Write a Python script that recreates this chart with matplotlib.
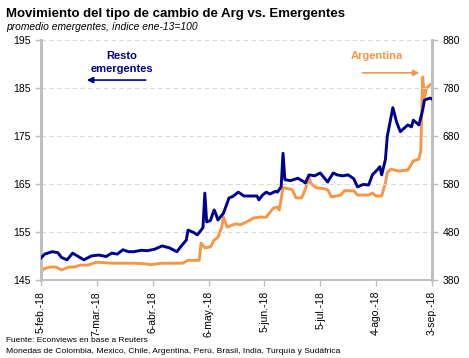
import pandas as pd
import matplotlib.pyplot as plt

# Resto emergentes (eje izquierdo)
resto_fechas = ['2018-02-05', '2018-02-07', '2018-02-11', '2018-02-14', '2018-02-16', '2018-02-19',
                '2018-02-22', '2018-02-25', '2018-02-28', '2018-03-04', '2018-03-08', '2018-03-12',
                '2018-03-15', '2018-03-18', '2018-03-21', '2018-03-24', '2018-03-27', '2018-03-31',
                '2018-04-03', '2018-04-07', '2018-04-11', '2018-04-15', '2018-04-19', '2018-04-21',
                '2018-04-24', '2018-04-25', '2018-04-28', '2018-04-30', '2018-05-03', '2018-05-04',
                '2018-05-05', '2018-05-07', '2018-05-09', '2018-05-10', '2018-05-11', '2018-05-14',
                '2018-05-17', '2018-05-19', '2018-05-22', '2018-05-25', '2018-05-29', '2018-06-01',
                '2018-06-02', '2018-06-04', '2018-06-06', '2018-06-08', '2018-06-11', '2018-06-12',
                '2018-06-14', '2018-06-15', '2018-06-16', '2018-06-19', '2018-06-23', '2018-06-26',
                '2018-06-27', '2018-06-29', '2018-07-02', '2018-07-05', '2018-07-09', '2018-07-10',
                '2018-07-12', '2018-07-14', '2018-07-17', '2018-07-20', '2018-07-23', '2018-07-25',
                '2018-07-28', '2018-07-31', '2018-08-02', '2018-08-05', '2018-08-06', '2018-08-07',
                '2018-08-09', '2018-08-10', '2018-08-13', '2018-08-15', '2018-08-17', '2018-08-21',
                '2018-08-23', '2018-08-24', '2018-08-27', '2018-08-29', '2018-08-30', '2018-09-02',
                '2018-09-03']
resto_valores = [149.7, 150.5, 151.0, 150.8, 149.8, 149.3,
                 150.7, 150.0, 149.3, 150.1, 150.3, 150.0,
                 150.7, 150.5, 151.4, 151.0, 151.0, 151.3,
                 151.2, 151.5, 152.2, 151.8, 151.0, 152.0,
                 153.4, 155.5, 155.0, 154.5, 156.0, 163.2,
                 157.2, 157.5, 159.7, 158.8, 157.6, 159.0,
                 162.2, 162.5, 163.4, 162.6, 162.6, 162.6,
                 161.8, 162.8, 163.4, 163.0, 163.6, 163.4,
                 164.5, 171.5, 166.0, 165.8, 166.3, 165.6,
                 165.3, 167.0, 166.8, 167.4, 165.5, 166.2,
                 167.4, 167.0, 166.8, 167.0, 166.2, 164.5,
                 165.0, 164.9, 167.0, 168.2, 168.7, 167.0,
                 170.2, 175.0, 181.0, 178.0, 176.0, 177.4,
                 177.0, 178.4, 177.4, 180.5, 182.6, 183.0,
                 182.8]

# Argentina (eje derecho)
arg_fechas = ['2018-02-05', '2018-02-07', '2018-02-10', '2018-02-13', '2018-02-16', '2018-02-20',
              '2018-02-23', '2018-02-26', '2018-03-02', '2018-03-07', '2018-03-11', '2018-03-15',
              '2018-03-21', '2018-03-27', '2018-04-01', '2018-04-05', '2018-04-11', '2018-04-18',
              '2018-04-22', '2018-04-25', '2018-04-28', '2018-05-01', '2018-05-02', '2018-05-04',
              '2018-05-07', '2018-05-09', '2018-05-11', '2018-05-13', '2018-05-14', '2018-05-16',
              '2018-05-19', '2018-05-21', '2018-05-23', '2018-05-27', '2018-05-30', '2018-06-02',
              '2018-06-06', '2018-06-08', '2018-06-10', '2018-06-12', '2018-06-13', '2018-06-15',
              '2018-06-17', '2018-06-20', '2018-06-22', '2018-06-25', '2018-06-27', '2018-06-29',
              '2018-06-30', '2018-07-03', '2018-07-06', '2018-07-09', '2018-07-11', '2018-07-16',
              '2018-07-18', '2018-07-23', '2018-07-25', '2018-07-31', '2018-08-02', '2018-08-04',
              '2018-08-07', '2018-08-09', '2018-08-10', '2018-08-12', '2018-08-16', '2018-08-21',
              '2018-08-24', '2018-08-27', '2018-08-28', '2018-08-29', '2018-08-30', '2018-08-31',
              '2018-09-03']
arg_valores = [398, 405, 408, 408, 402, 408,
               408, 412, 412, 418, 417, 416,
               416, 416, 415, 413, 416, 416,
               416, 422, 422, 422, 458, 448,
               450, 464, 470, 490, 512, 491,
               496, 498, 496, 503, 510, 512,
               512, 522, 531, 533, 527, 573,
               572, 569, 552, 552, 570, 594,
               582, 573, 572, 569, 554, 558,
               567, 567, 558, 558, 562, 556,
               556, 583, 605, 612, 608, 610,
               629, 633, 650, 804, 762, 781,
               790]

ticks_x = ['2018-02-05', '2018-03-07', '2018-04-06', '2018-05-06', '2018-06-05',
           '2018-07-05', '2018-08-04', '2018-09-03']
etiquetas_x = ['5-feb.-18', '7-mar.-18', '6-abr.-18', '6-may.-18', '5-jun.-18',
               '5-jul.-18', '4-ago.-18', '3-sep.-18']

azul = '#000090'
naranja = '#F79646'
gris = '#BFBFBF'

plt.rcParams['font.family'] = ['Liberation Sans', 'DejaVu Sans']

fig = plt.figure(figsize=(4.69, 3.58), dpi=100)
ax = fig.add_axes([0.0874, 0.2165, 0.8336, 0.6705])
ax2 = ax.twinx()

ax.plot(pd.to_datetime(resto_fechas), resto_valores, color=azul, lw=2.1, zorder=3)
ax2.plot(pd.to_datetime(arg_fechas), arg_valores, color=naranja, lw=2.1, zorder=2)
ax.set_zorder(ax2.get_zorder() + 1)
ax.patch.set_visible(False)

ax.set_xlim(pd.Timestamp('2018-02-05'), pd.Timestamp('2018-09-03'))
ax.set_ylim(145, 195)
ax2.set_ylim(380, 880)
ax.set_yticks([145, 155, 165, 175, 185, 195])
ax2.set_yticks([380, 480, 580, 680, 780, 880])
ax.set_xticks(pd.to_datetime(ticks_x))
ax.set_xticklabels(etiquetas_x, rotation=90)

ax.grid(axis='y', color='#D9D9D9', ls=(0, (4, 3)), lw=0.8)
for a in (ax, ax2):
    a.spines['top'].set_visible(False)
    for s in ('left', 'right', 'bottom'):
        a.spines[s].set_color(gris)
    a.spines['left'].set_linewidth(2)
    a.spines['right'].set_linewidth(2)
    a.spines['bottom'].set_linewidth(1.2)
    a.tick_params(colors=gris, labelcolor='black', labelsize=7.5, length=4, width=1)

ax.text(0.206, 0.955, 'Resto\nemergentes', transform=ax.transAxes, ha='center', va='top',
        color=azul, fontsize=8, fontweight='bold', linespacing=1.4)
ax.annotate('', xy=(0.11, 0.835), xytext=(0.275, 0.835), xycoords='axes fraction',
            arrowprops=dict(arrowstyle='-|>', color=azul, lw=1.2, mutation_scale=9))
ax.text(0.86, 0.935, 'Argentina', transform=ax.transAxes, ha='center', va='center',
        color=naranja, fontsize=8, fontweight='bold')
ax.annotate('', xy=(0.975, 0.865), xytext=(0.815, 0.865), xycoords='axes fraction',
            arrowprops=dict(arrowstyle='-|>', color=naranja, lw=1.2, mutation_scale=9))

fig.text(0.013, 0.962, 'Movimiento del tipo de cambio de Arg vs. Emergentes',
         fontsize=9.5, fontweight='bold', va='center')
fig.text(0.013, 0.925, 'promedio emergentes, índice ene-13=100',
         fontsize=7.4, style='italic', va='center')
fig.text(0.013, 0.05, 'Fuente: Econviews en base a Reuters', fontsize=6, va='center')
fig.text(0.013, 0.017, 'Monedas de Colombia, Mexico, Chile, Argentina, Perú, Brasil, India, Turquía y Sudáfrica',
         fontsize=6.1, va='center')

fig.savefig('out.png', dpi=100)
